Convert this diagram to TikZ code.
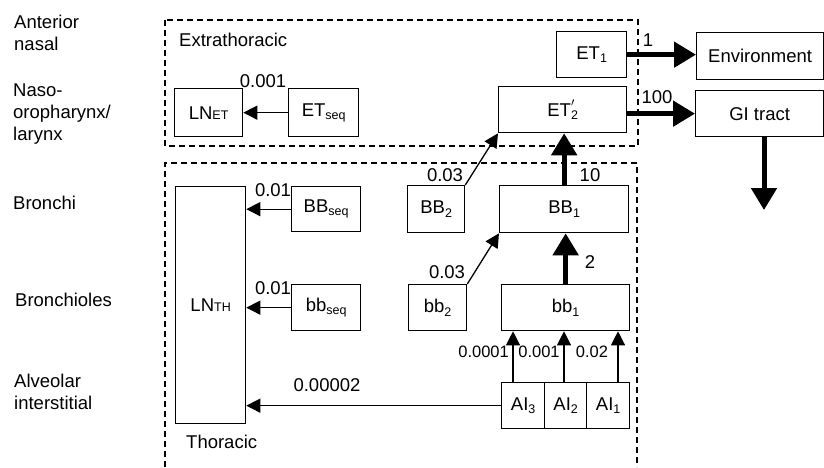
\documentclass[tikz,border=0pt]{standalone}
\usepackage{fontspec}
\setmainfont{Liberation Sans}
\usetikzlibrary{arrows.meta}
\newcommand\sbs[1]{\raisebox{-0.35ex}{\fontsize{12.5}{12.5}\selectfont #1}}
\newcommand\sml[1]{{\fontsize{12.5}{12.5}\selectfont #1}}
\begin{document}
\begin{tikzpicture}[x=1pt,y=-1pt,
  every node/.style={font=\fontsize{18.5}{22}\selectfont},
  box/.style={draw,line width=1.3pt,inner sep=0pt,anchor=north west},
  lbl/.style={inner sep=0pt},
  small/.style={inner sep=0pt,font=\fontsize{16.5}{20}\selectfont},
  side/.style={inner sep=0pt,anchor=west,align=left},
  thinarr/.style={line width=1.3pt,-{Triangle[length=14pt,width=14pt]}},
  thickarr/.style={line width=5pt,-{Triangle[length=22pt,width=25pt]}},
  region/.style={line width=1.8pt,dash pattern=on 6pt off 4pt}]
\useasboundingbox (0,0) rectangle (824,467);

% region outlines
\draw[region] (165,20) rectangle (638,146);
\draw[region] (165,467) -- (165,163) -- (637,163) -- (637,467);

% side labels
\node[side] (l1) at (14,33) {Anterior\\nasal};
\node[side] (l2) at (13,114) {Naso-\\oropharynx/\\larynx};
\node[side] (l3) at (13,203) {Bronchi};
\node[side] (l4) at (15,300) {Bronchioles};
\node[side] (l5) at (14,392) {Alveolar\\interstitial};

\node[lbl,anchor=west] (ext) at (179,40) {Extrathoracic};
\node[lbl,anchor=west] (tho) at (186,442) {Thoracic};

% boxes
\node[box,minimum width=68,minimum height=48] (LNET) at (174,88) {LN\sml{ET}};
\node[box,minimum width=70,minimum height=48] (ETseq) at (288,88) {ET\sbs{seq}};
\node[box,minimum width=70,minimum height=46] (ET1) at (556,31) {ET\sbs{1}};
\node[box,minimum width=128,minimum height=46] (ET2) at (498,86) {ET\rlap{\raisebox{1.05ex}{\fontsize{13}{13}\selectfont$\prime$}}\sbs{2}};
\node[box,minimum width=127,minimum height=47] (Env) at (696,32) {Environment};
\node[box,minimum width=128,minimum height=46] (GI) at (695,90) {GI tract};

\node[box,minimum width=70,minimum height=237] (LNTH) at (175,186) {LN\sml{TH}};
\node[box,minimum width=69,minimum height=45] (BBseq) at (291,186) {BB\sbs{seq}};
\node[box,minimum width=69,minimum height=46] (bbseq) at (291,284) {bb\sbs{seq}};
\node[box,minimum width=57,minimum height=47] (BB2) at (407,185) {BB\sbs{2}};
\node[box,minimum width=129,minimum height=47] (BB1) at (499,185) {BB\sbs{1}};
\node[box,minimum width=58,minimum height=46] (bb2) at (408,284) {bb\sbs{2}};
\node[box,minimum width=128,minimum height=46] (bb1) at (501,284) {bb\sbs{1}};
\node[box,minimum width=43,minimum height=46] (AI3) at (501,382) {AI\sbs{3}};
\node[box,minimum width=42,minimum height=46] (AI2) at (544,382) {AI\sbs{2}};
\node[box,minimum width=43,minimum height=46] (AI1) at (586,382) {AI\sbs{1}};

% connectors
\draw[thinarr] (ETseq.west) -- (ETseq.west -| LNET.east);
\draw[thinarr] (BBseq.west) -- (BBseq.west -| LNTH.east);
\draw[thinarr] (bbseq.west) -- (bbseq.west -| LNTH.east);
\draw[thinarr] (AI3.west) -- (AI3.west -| LNTH.east);
\draw[thinarr] (BB2.north east) -- (ET2.south west);
\draw[thinarr] (bb2.north east) -- (BB1.south west);
\draw[thinarr] (AI3.north -| 513,0) -- (bb1.south -| 513,0);
\draw[thinarr] (AI2.north -| 564,0) -- (bb1.south -| 564,0);
\draw[thinarr] (AI1.north -| 618,0) -- (bb1.south -| 618,0);
\draw[thickarr] (bb1.north) -- (bb1.north |- BB1.south);
\draw[thickarr] (BB1.north) -- (BB1.north |- ET2.south);
\draw[thickarr] (ET1.east) -- (ET1.east -| Env.west);
\draw[thickarr] (ET2.east |- GI.west) -- (GI.west);
\coordinate (gout) at (764,210);
\draw[thickarr] (GI.south -| gout) -- (gout);

% rate labels
\node[lbl] (r1) at (263,81) {0.001};
\node[lbl] (r2) at (648,40) {1};
\node[lbl] (r3) at (657,97) {100};
\node[lbl] (r4) at (445,175) {0.03};
\node[lbl] (r5) at (590,175) {10};
\node[lbl] (r6) at (447,272) {0.03};
\node[lbl] (r7) at (590,262) {2};
\node[lbl] (r8) at (273,190) {0.01};
\node[lbl] (r9) at (273,288) {0.01};
\node[lbl] (r10) at (327,385) {0.00002};
\node[small,anchor=east] (r11) at (509,352) {0.0001};
\node[small] (r12) at (539,352) {0.001};
\node[small] (r13) at (592,352) {0.02};
\end{tikzpicture}
\end{document}
